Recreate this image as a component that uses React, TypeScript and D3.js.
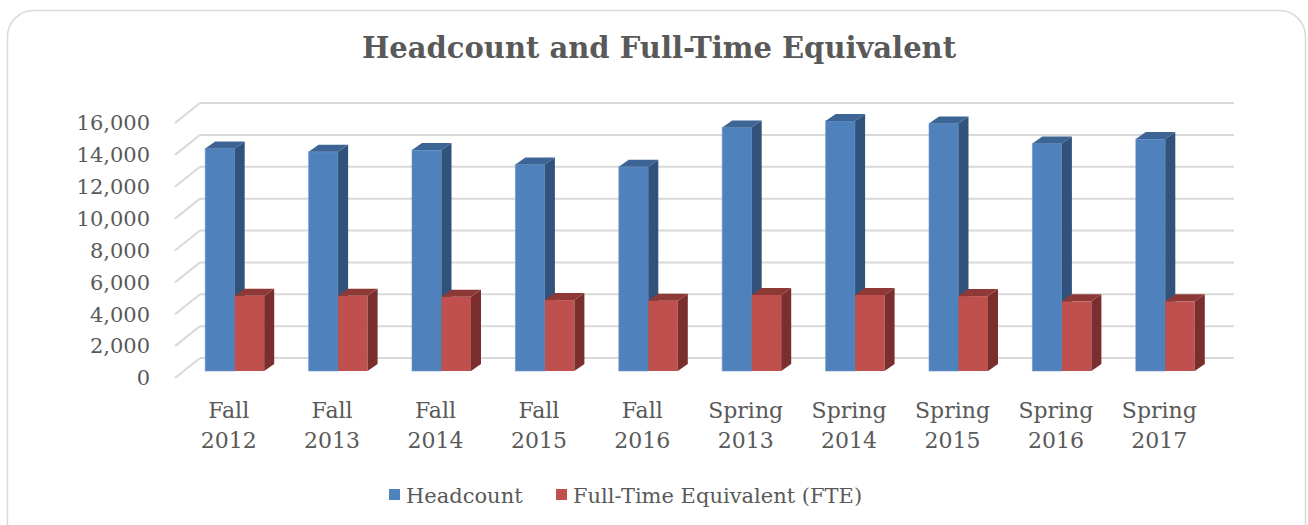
import React from 'react';
import * as d3 from 'd3';

const categories = ['Fall 2012', 'Fall 2013', 'Fall 2014', 'Fall 2015', 'Fall 2016', 'Spring 2013', 'Spring 2014', 'Spring 2015', 'Spring 2016', 'Spring 2017'];
const headcount = [13960, 13750, 13860, 12960, 12810, 15280, 15690, 15530, 14280, 14550];
const fte = [4720, 4720, 4660, 4450, 4410, 4770, 4770, 4700, 4370, 4370];
const yTicks = [0, 2000, 4000, 6000, 8000, 10000, 12000, 14000, 16000];
const seriesNames = ['Headcount', 'Full-Time Equivalent (FTE)'];

const W = 1308;
const H = 525;
const FONT = '"DejaVu Serif", Georgia, serif';
const TEXT = '#595959';
const GRID = '#d9d9d9';

// colours per series: front, top, side
const palette = [
  { front: '#4f81bd', top: '#3c6494', side: '#31527b' },
  { front: '#c0504d', top: '#8f3937', side: '#7a2f2e' },
];

// 3D offsets
const wallDx = 25, wallDy = 20; // side wall depth
const barFront = 13; // bar front face sits this much below back wall
const barDx = 10, barDy = 7; // bar depth

const App: React.FC = () => {
  const y = d3.scaleLinear().domain([0, 16000]).range([358, 103]);
  const x = d3.scaleBand<string>().domain(categories).range([183, 1217]).paddingInner(0.4294).paddingOuter(0.2147);
  const xs = d3.scaleBand<number>().domain([0, 1]).range([0, x.bandwidth()]);
  const fmt = d3.format(',');
  const wallLeft = 200, wallRight = 1234;

  const bar = (cat: string, s: number, v: number) => {
    const x0 = x(cat)! + xs(s)!;
    const w = xs.bandwidth();
    const yb = y(0) + barFront;
    const yt = y(v) + barFront;
    const c = palette[s];
    return (
      <g key={cat + s}>
        <rect x={x0} y={yt} width={w} height={yb - yt} fill={c.front} stroke="#6f97c9" strokeOpacity={s === 0 ? 0.6 : 0} strokeWidth={1} />
        <polygon points={`${x0 + w},${yt} ${x0 + w + barDx},${yt - barDy} ${x0 + w + barDx},${yb - barDy} ${x0 + w},${yb}`} fill={c.side} />
        <polygon points={`${x0},${yt} ${x0 + barDx},${yt - barDy} ${x0 + w + barDx},${yt - barDy} ${x0 + w},${yt}`} fill={c.top} />
      </g>
    );
  };

  return (
    <svg width={W} height={H} style={{ position: 'absolute', left: 0, top: 0, display: 'block' }} fontFamily={FONT}>
      <rect x={0} y={0} width={W} height={H} fill="#fff" />
      <rect x={7.5} y={10.5} width={1298} height={560} rx={26} fill="#fff" stroke={GRID} strokeWidth={1.5} />
      <text x={659} y={58} textAnchor="middle" fontSize={29} fontWeight="bold" fill={TEXT}>
        Headcount and Full-Time Equivalent
      </text>

      {/* walls gridlines */}
      {yTicks.map(t => (
        <g key={t}>
          <line x1={wallLeft} x2={wallRight} y1={y(t)} y2={y(t)} stroke={GRID} strokeWidth={2} />
          <line x1={wallLeft - wallDx} x2={wallLeft} y1={y(t) + wallDy} y2={y(t)} stroke={GRID} strokeWidth={2} />
          <text x={150} y={y(t) + wallDy} dy="0.35em" textAnchor="end" fontSize={21} fill={TEXT}>{fmt(t)}</text>
        </g>
      ))}

      {categories.map((c, i) => (
        <g key={c}>
          {bar(c, 0, headcount[i])}
          {bar(c, 1, fte[i])}
        </g>
      ))}

      {categories.map(c => {
        const [a, b] = c.split(' ');
        const cx = x(c)! + x.bandwidth() / 2 - 6;
        return (
          <text key={c} x={cx} textAnchor="middle" fontSize={22} fill={TEXT}>
            <tspan x={cx} y={418}>{a}</tspan>
            <tspan x={cx} y={448}>{b}</tspan>
          </text>
        );
      })}

      {/* legend */}
      {seriesNames.map((n, i) => {
        const lx = [389, 556][i];
        return (
          <g key={n}>
            <rect x={lx} y={489} width={11} height={11} fill={palette[i].front} />
            <text x={lx + 17} y={503} fontSize={21} fill={TEXT}>{n}</text>
          </g>
        );
      })}
    </svg>
  );
};

export default App;
